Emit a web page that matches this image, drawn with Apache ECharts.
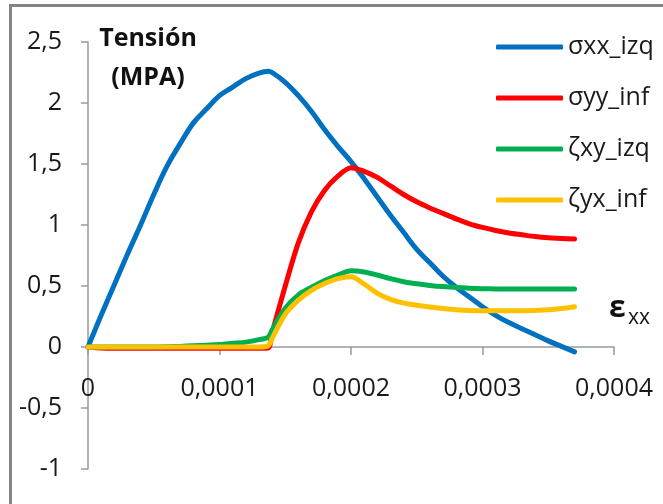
<!DOCTYPE html>
<html>
<head>
<meta charset="utf-8">
<script src="https://cdn.jsdelivr.net/npm/echarts@6/dist/echarts.min.js"></script>
<style>
html,body{margin:0;padding:0;background:#fff;}
#chart{width:663px;height:504px;}
</style>
</head>
<body>
<div id="chart"></div>
<script>
// Strain (εxx) values shared by all series
const strain = [0, 0.00001, 0.00002, 0.00003, 0.00004, 0.00005, 0.00006, 0.00007, 0.00008, 0.00009,
  0.0001, 0.00011, 0.00012, 0.00013, 0.000137, 0.00014, 0.00015, 0.00016, 0.00017, 0.00018, 0.00019,
  0.0002, 0.00021, 0.00022, 0.00023, 0.00024, 0.00025, 0.00026, 0.00027, 0.00028, 0.00029,
  0.0003, 0.00031, 0.00032, 0.00033, 0.00034, 0.00035, 0.00036, 0.00037];

const sigmaXXizq = [0, 0.26, 0.51, 0.76, 1.00, 1.25, 1.48, 1.665, 1.835, 1.95,
  2.06, 2.13, 2.20, 2.245, 2.26, 2.25, 2.17, 2.06, 1.93, 1.78, 1.645,
  1.52, 1.38, 1.23, 1.08, 0.94, 0.80, 0.69, 0.58, 0.49, 0.41,
  0.33, 0.26, 0.20, 0.15, 0.10, 0.05, 0.005, -0.04];

const sigmaYYinf = [0, -0.008, -0.01, -0.01, -0.01, -0.01, -0.01, -0.01, -0.01, -0.01,
  -0.01, -0.01, -0.01, -0.01, -0.008, 0.115, 0.50, 0.855, 1.11, 1.285, 1.40,
  1.47, 1.44, 1.39, 1.32, 1.25, 1.19, 1.14, 1.095, 1.05, 1.01,
  0.98, 0.955, 0.935, 0.92, 0.905, 0.895, 0.89, 0.885];

const zetaXYizq = [0, 0, 0, 0, 0, 0, 0.002, 0.005, 0.01, 0.015,
  0.02, 0.03, 0.04, 0.06, 0.08, 0.14, 0.317, 0.427, 0.49, 0.545, 0.59,
  0.625, 0.615, 0.59, 0.56, 0.535, 0.518, 0.505, 0.495, 0.488, 0.482,
  0.478, 0.476, 0.475, 0.475, 0.475, 0.475, 0.475, 0.475];

const zetaYXinf = [0, 0, 0, 0, 0, 0, 0, 0, 0, 0,
  0, 0, 0, 0, 0.01, 0.07, 0.27, 0.385, 0.465, 0.52, 0.56,
  0.575, 0.515, 0.44, 0.39, 0.36, 0.343, 0.328, 0.316, 0.306, 0.30,
  0.298, 0.298, 0.298, 0.298, 0.30, 0.305, 0.315, 0.33];

const seriesNames = ['σxx_izq', 'σyy_inf', 'ζxy_izq', 'ζyx_inf'];
const seriesColors = ['#0070c0', '#ff0000', '#00b050', '#ffc000'];
const seriesSmooth = [0.4, 0.3, 0.3, 0.3];
const xTickLabels = ['0', '0,0001', '0,0002', '0,0003', '0,0004'];
const yTickLabels = ['-1', '-0,5', '0', '0,5', '1', '1,5', '2', '2,5'];

const FONT = '"Open Sans", sans-serif';
const allValues = [sigmaXXizq, sigmaYYinf, zetaXYizq, zetaYXinf];

const Y_MIN = -1, Y_MAX = 2.5;
const GRID_TOP = 42, GRID_BOTTOM = 35, H = 504;
const plotH = H - GRID_TOP - GRID_BOTTOM;
const zeroOffset = -plotH * (0 - Y_MIN) / (Y_MAX - Y_MIN); // move x axis up to y=0

const chart = echarts.init(document.getElementById('chart'));
chart.setOption({
  animation: false,
  backgroundColor: '#ffffff',
  color: seriesColors,
  textStyle: { fontFamily: FONT },
  grid: { left: 88, right: 49, top: GRID_TOP, bottom: GRID_BOTTOM, containLabel: false, outerBoundsMode: 'none' },
  legend: {
    orient: 'vertical',
    left: 491,
    top: 29,
    icon: 'roundRect',
    itemWidth: 67,
    itemHeight: 5,
    itemGap: 25,
    textStyle: { fontFamily: FONT, fontSize: 25, color: '#1a1a1a', lineHeight: 26 },
    data: seriesNames
  },
  xAxis: {
    type: 'value',
    min: 0, max: 0.0004, interval: 0.0001,
    position: 'bottom',
    offset: zeroOffset,
    axisLine: { onZero: false, lineStyle: { color: '#9a9a9a', width: 1.5 } },
    axisTick: { show: true, length: 8, lineStyle: { color: '#9a9a9a', width: 1.5 } },
    splitLine: { show: false },
    axisLabel: {
      margin: 29, fontSize: 25, color: '#1a1a1a', fontFamily: FONT,
      formatter: v => xTickLabels[Math.round(v / 0.0001)]
    }
  },
  yAxis: {
    type: 'value',
    min: Y_MIN, max: Y_MAX, interval: 0.5,
    axisLine: { show: true, onZero: false, lineStyle: { color: '#9a9a9a', width: 1.5 } },
    axisTick: { show: true, length: 7, lineStyle: { color: '#9a9a9a', width: 1.5 } },
    splitLine: { show: false },
    axisLabel: {
      margin: 26, fontSize: 25, color: '#1a1a1a', fontFamily: FONT,
      formatter: v => yTickLabels[Math.round((v - Y_MIN) / 0.5)]
    }
  },
  graphic: [
    { type: 'rect', shape: { x: 10.5, y: 5.5, width: 700, height: 560 },
      style: { fill: 'none', stroke: '#858585', lineWidth: 3 }, silent: true },
    { type: 'text', x: 148, y: 39,
      style: { text: 'Tensión', fontFamily: FONT, fontSize: 25, fontWeight: 'bold', fill: '#111',
        textAlign: 'center', textVerticalAlign: 'middle' } },
    { type: 'text', x: 148, y: 78,
      style: { text: '(MPA)', fontFamily: FONT, fontSize: 25, fontWeight: 'bold', fill: '#111',
        textAlign: 'center', textVerticalAlign: 'middle' } },
    { type: 'text', x: 609, y: 308,
      style: { text: 'ε', fontFamily: FONT, fontSize: 30, fontWeight: 'bold', fill: '#111',
        textAlign: 'left', textVerticalAlign: 'middle' } },
    { type: 'text', x: 628, y: 318,
      style: { text: 'xx', fontFamily: FONT, fontSize: 21, fill: '#111',
        textAlign: 'left', textVerticalAlign: 'middle' } }
  ],
  series: seriesNames.map((name, k) => ({
    name: name,
    type: 'line',
    showSymbol: false,
    symbol: 'none',
    smooth: seriesSmooth[k],
    lineStyle: { width: 5, color: seriesColors[k], cap: 'round', join: 'round' },
    itemStyle: { color: seriesColors[k] },
    data: strain.map((x, i) => [x, allValues[k][i]])
  }))
});
</script>
</body>
</html>
